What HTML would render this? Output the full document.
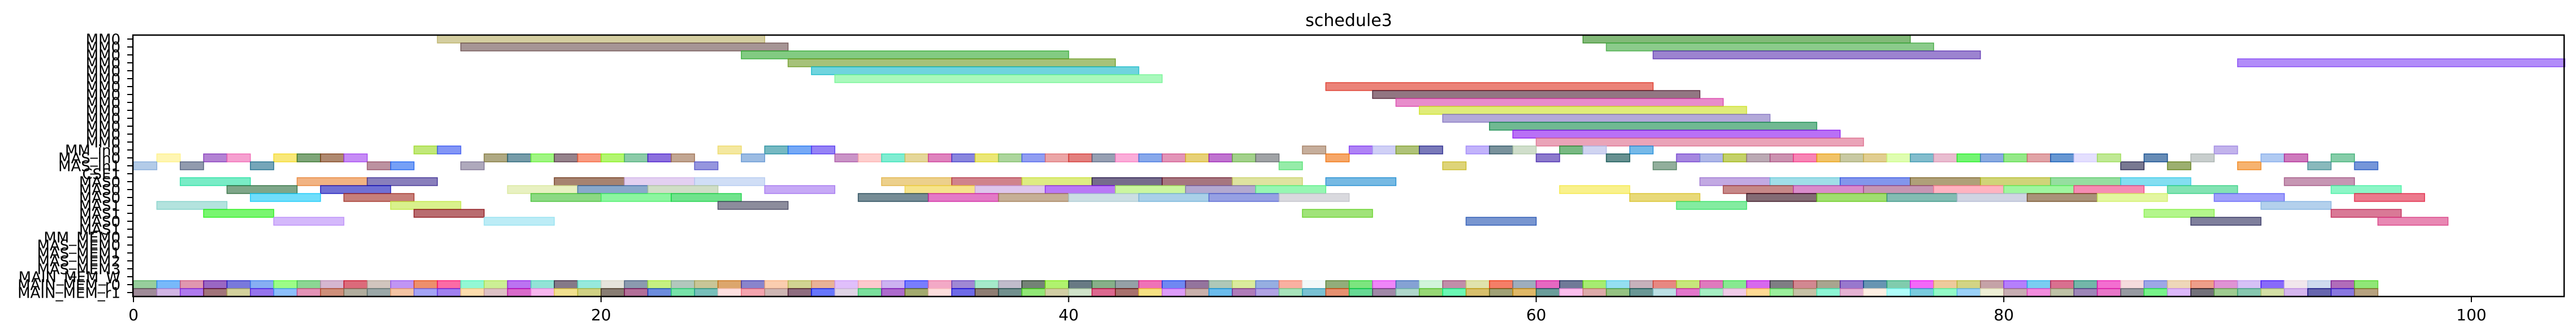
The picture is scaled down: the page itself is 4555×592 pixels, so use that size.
<!DOCTYPE html>
<html><head><meta charset="utf-8">
<style>
html,body{margin:0;padding:0;background:#fff;width:4555px;height:592px;overflow:hidden}
svg{display:block}
text{font-family:"DejaVu Sans","Liberation Sans",sans-serif;fill:#000}
</style></head>
<body>
<svg id="s" width="4555" height="592" xmlns="http://www.w3.org/2000/svg">
<text x="2385" y="46" font-size="30" text-anchor="middle">schedule3</text>
<g id="bars"></g>
<rect x="235" y="62" width="4299" height="462" fill="none" stroke="#000" stroke-width="2.5"/>
<g id="axes"></g>
</svg>
<script>
(function(){
var NS="http://www.w3.org/2000/svg";
var U=41.34,X0=236,Y0=69,RH=14;
var bars=document.getElementById('bars'),axes=document.getElementById('axes');
var seed=12345;function rnd(){seed=(seed*1103515245+12345)%2147483648;return seed/2147483648;}
function rc(){return 'rgb('+Math.floor(rnd()*255)+','+Math.floor(rnd()*255)+','+Math.floor(rnd()*255)+')';}
function bar(row,s,d,c){
 if(!c)c=rc();
 var r=document.createElementNS(NS,'rect');
 r.setAttribute('x',X0+s*U);r.setAttribute('y',Y0+row*RH-7);
 r.setAttribute('width',d*U);r.setAttribute('height',RH);
 r.setAttribute('fill',c);r.setAttribute('fill-opacity','0.6');
 r.setAttribute('stroke',c);r.setAttribute('stroke-opacity','0.85');r.setAttribute('stroke-width','1.5');
 bars.appendChild(r);
}
// long MM bars
var L=[[0,13,14,'#b8ae60'],[1,14,14,'#6b4f4f'],[2,26,14,'#2fa82f'],[3,28,14,'#6b9a20'],[4,29,14,'#10b8c8'],[5,30,14,'#70f590'],
[0,62,14,'#2e8a1e'],[1,63,14,'#3ea83e'],[2,65,14,'#5a30b0'],[3,90,14,'#7f3ff5'],
[6,51,14,'#dd3020'],[7,53,14,'#4a1a2e'],[8,54,14,'#d840a8'],[9,55,14,'#cce020'],[10,56,14,'#8070c0'],[11,58,14,'#108a4a'],[12,59,14,'#8a10f0'],[13,60,14,'#dc6888']];
L.forEach(function(b){bar(b[0],b[1],b[2],b[3]);});
var cells={
14:[[12,'#98d820'],[13,'#3050f0'],[25,'#ecd860'],[27,'#1a8a9a'],[28,'#1a70f0'],[29,'#5030f0'],[50,'#a0785a'],[52,'#7a30f0'],[53,'#b0b0f0'],[54,'#7a9a20'],[55,'#20208a'],[57,'#9a80f8'],[58,'#204a5a'],[59,'#b0c8a8'],[61,'#208a30'],[62,'#b0b8e8'],[64,'#1a8ad8'],[89,'#9a80e0']],
15:[[1,'#fff080'],[3,'#8030b8'],[4,'#f060b0'],[6,'#f5d820'],[7,'#2a6a20'],[8,'#7a3a10'],[9,'#a040f0'],[15,'#7a7030'],[16,'#1a5a70'],[17,'#60f030'],[18,'#503040'],[19,'#f55a30'],[20,'#80f010'],[21,'#40a870'],[22,'#4010c8'],[23,'#9a6a4a'],[26,'#5a90d0']],
16:[[0,'#80a8d8'],[2,'#4a5878'],[5,'#1a6a8a'],[10,'#904a60'],[11,'#1a60f0'],[14,'#7a7090'],[24,'#5050c8'],[49,'#50e070'],[56,'#c8b820'],[65,'#4a7a5a'],[85,'#20204a'],[87,'#5a7a10'],[90,'#f08010'],[93,'#3a8a90'],[95,'#1a50c0']]
};
for(var r in cells)cells[r].forEach(function(c){bar(+r,c[0],1,c[1]);});
for(var u=30;u<=48;u++)bar(15,u,1,null);
[51,60,63].forEach(function(u){bar(15,u,1,null);});
for(var u=66;u<=84;u++)bar(15,u,1,null);
[86,88,91,92,94].forEach(function(u){bar(15,u,1,null);});
var M={
18:[[2,'#20e0a0'],[7,'#e88030'],[10,'#3a2a90'],[18,'#6a3010'],[21,'#d0b0e8'],[24,'#b0c8f0'],[32,'#e0b040'],[35,'#b03040'],[38,'#c8e030'],[41,'#1a0a40'],[44,'#6a1a2a'],[47,'#c8d060'],[51,'#1a8ad0'],[67,'#9a70d0'],[70,'#60c8d8'],[73,'#3050e0'],[76,'#7a6020'],[79,'#b0b820'],[82,'#50c860'],[85,'#30c8e8'],[92,'#a05080']],
19:[[4,'#2a6a3a'],[8,'#1010b8'],[16,'#d8e898'],[19,'#3a70a8'],[22,'#b0c8a0'],[27,'#a070f0'],[33,'#f0d040'],[36,'#c8a0e0'],[39,'#8a20f0'],[42,'#a8f060'],[45,'#8070b0'],[48,'#50f080'],[61,'#f5e840'],[68,'#a03838'],[71,'#c040a8'],[74,'#a05080'],[77,'#ff8098'],[80,'#60f060'],[83,'#f04080'],[87,'#30d080'],[94,'#40f0a0']],
20:[[5,'#10c8f8'],[9,'#a02a20'],[17,'#40c030'],[20,'#40f060'],[23,'#10d040'],[31,'#1a4050'],[34,'#d020a0'],[37,'#a07a50'],[40,'#a8c8d0'],[43,'#70b0d8'],[46,'#5060d0'],[49,'#c0c0c8'],[64,'#d8c020'],[69,'#300818'],[72,'#60c810'],[75,'#309080'],[78,'#b0b8d0'],[81,'#704a20'],[84,'#d0f060'],[89,'#6060f8'],[95,'#e02040']],
21:[[1,'#80d0c8'],[11,'#c0e840'],[25,'#40405a'],[66,'#30e060'],[91,'#80b0e0']],
22:[[3,'#20f010'],[12,'#8a0a10'],[50,'#60d020'],[86,'#80f040'],[94,'#c02050']],
23:[[6,'#b888f8'],[15,'#90e0f0'],[57,'#2050b0'],[88,'#2a2a5a'],[96,'#d83880']]
};
for(var r in M)M[r].forEach(function(c){bar(+r,c[0],3,c[1]);});
for(var u=0;u<96;u++){bar(31,u,1,null);bar(32,u,1,null);}
// y ticks & labels
var labels=[];for(var i=0;i<14;i++)labels.push('MM0');
labels=labels.concat(['MM_in0','MAS_in0','MAS_in1','CSE1','MAS0','MAS0','MAS0','MAS1','MAS1','MAS0','MAS1','MM_MEM0','MAS_MEM0','MAS_MEM1','MAS_MEM2','MAS_MEM3','MAIN_MEM_W','MAIN_MEM_r0','MAIN_MEM_r1']);
labels.forEach(function(t,i){
 var y=Y0+i*RH;
 var l=document.createElementNS(NS,'line');l.setAttribute('x1',225);l.setAttribute('x2',235);l.setAttribute('y1',y);l.setAttribute('y2',y);l.setAttribute('stroke','#000');l.setAttribute('stroke-width','2');axes.appendChild(l);
 var tx=document.createElementNS(NS,'text');tx.setAttribute('x',213);tx.setAttribute('y',y+9.5);tx.setAttribute('font-size','26');tx.setAttribute('text-anchor','end');tx.textContent=t;axes.appendChild(tx);
});
[0,20,40,60,80,100].forEach(function(v){
 var x=X0+v*U;
 var l=document.createElementNS(NS,'line');l.setAttribute('x1',x);l.setAttribute('x2',x);l.setAttribute('y1',524);l.setAttribute('y2',534);l.setAttribute('stroke','#000');l.setAttribute('stroke-width','2');axes.appendChild(l);
 var tx=document.createElementNS(NS,'text');tx.setAttribute('x',x);tx.setAttribute('y',566);tx.setAttribute('font-size','28');tx.setAttribute('text-anchor','middle');tx.textContent=v;axes.appendChild(tx);
});
})();
</script>
</body></html>
